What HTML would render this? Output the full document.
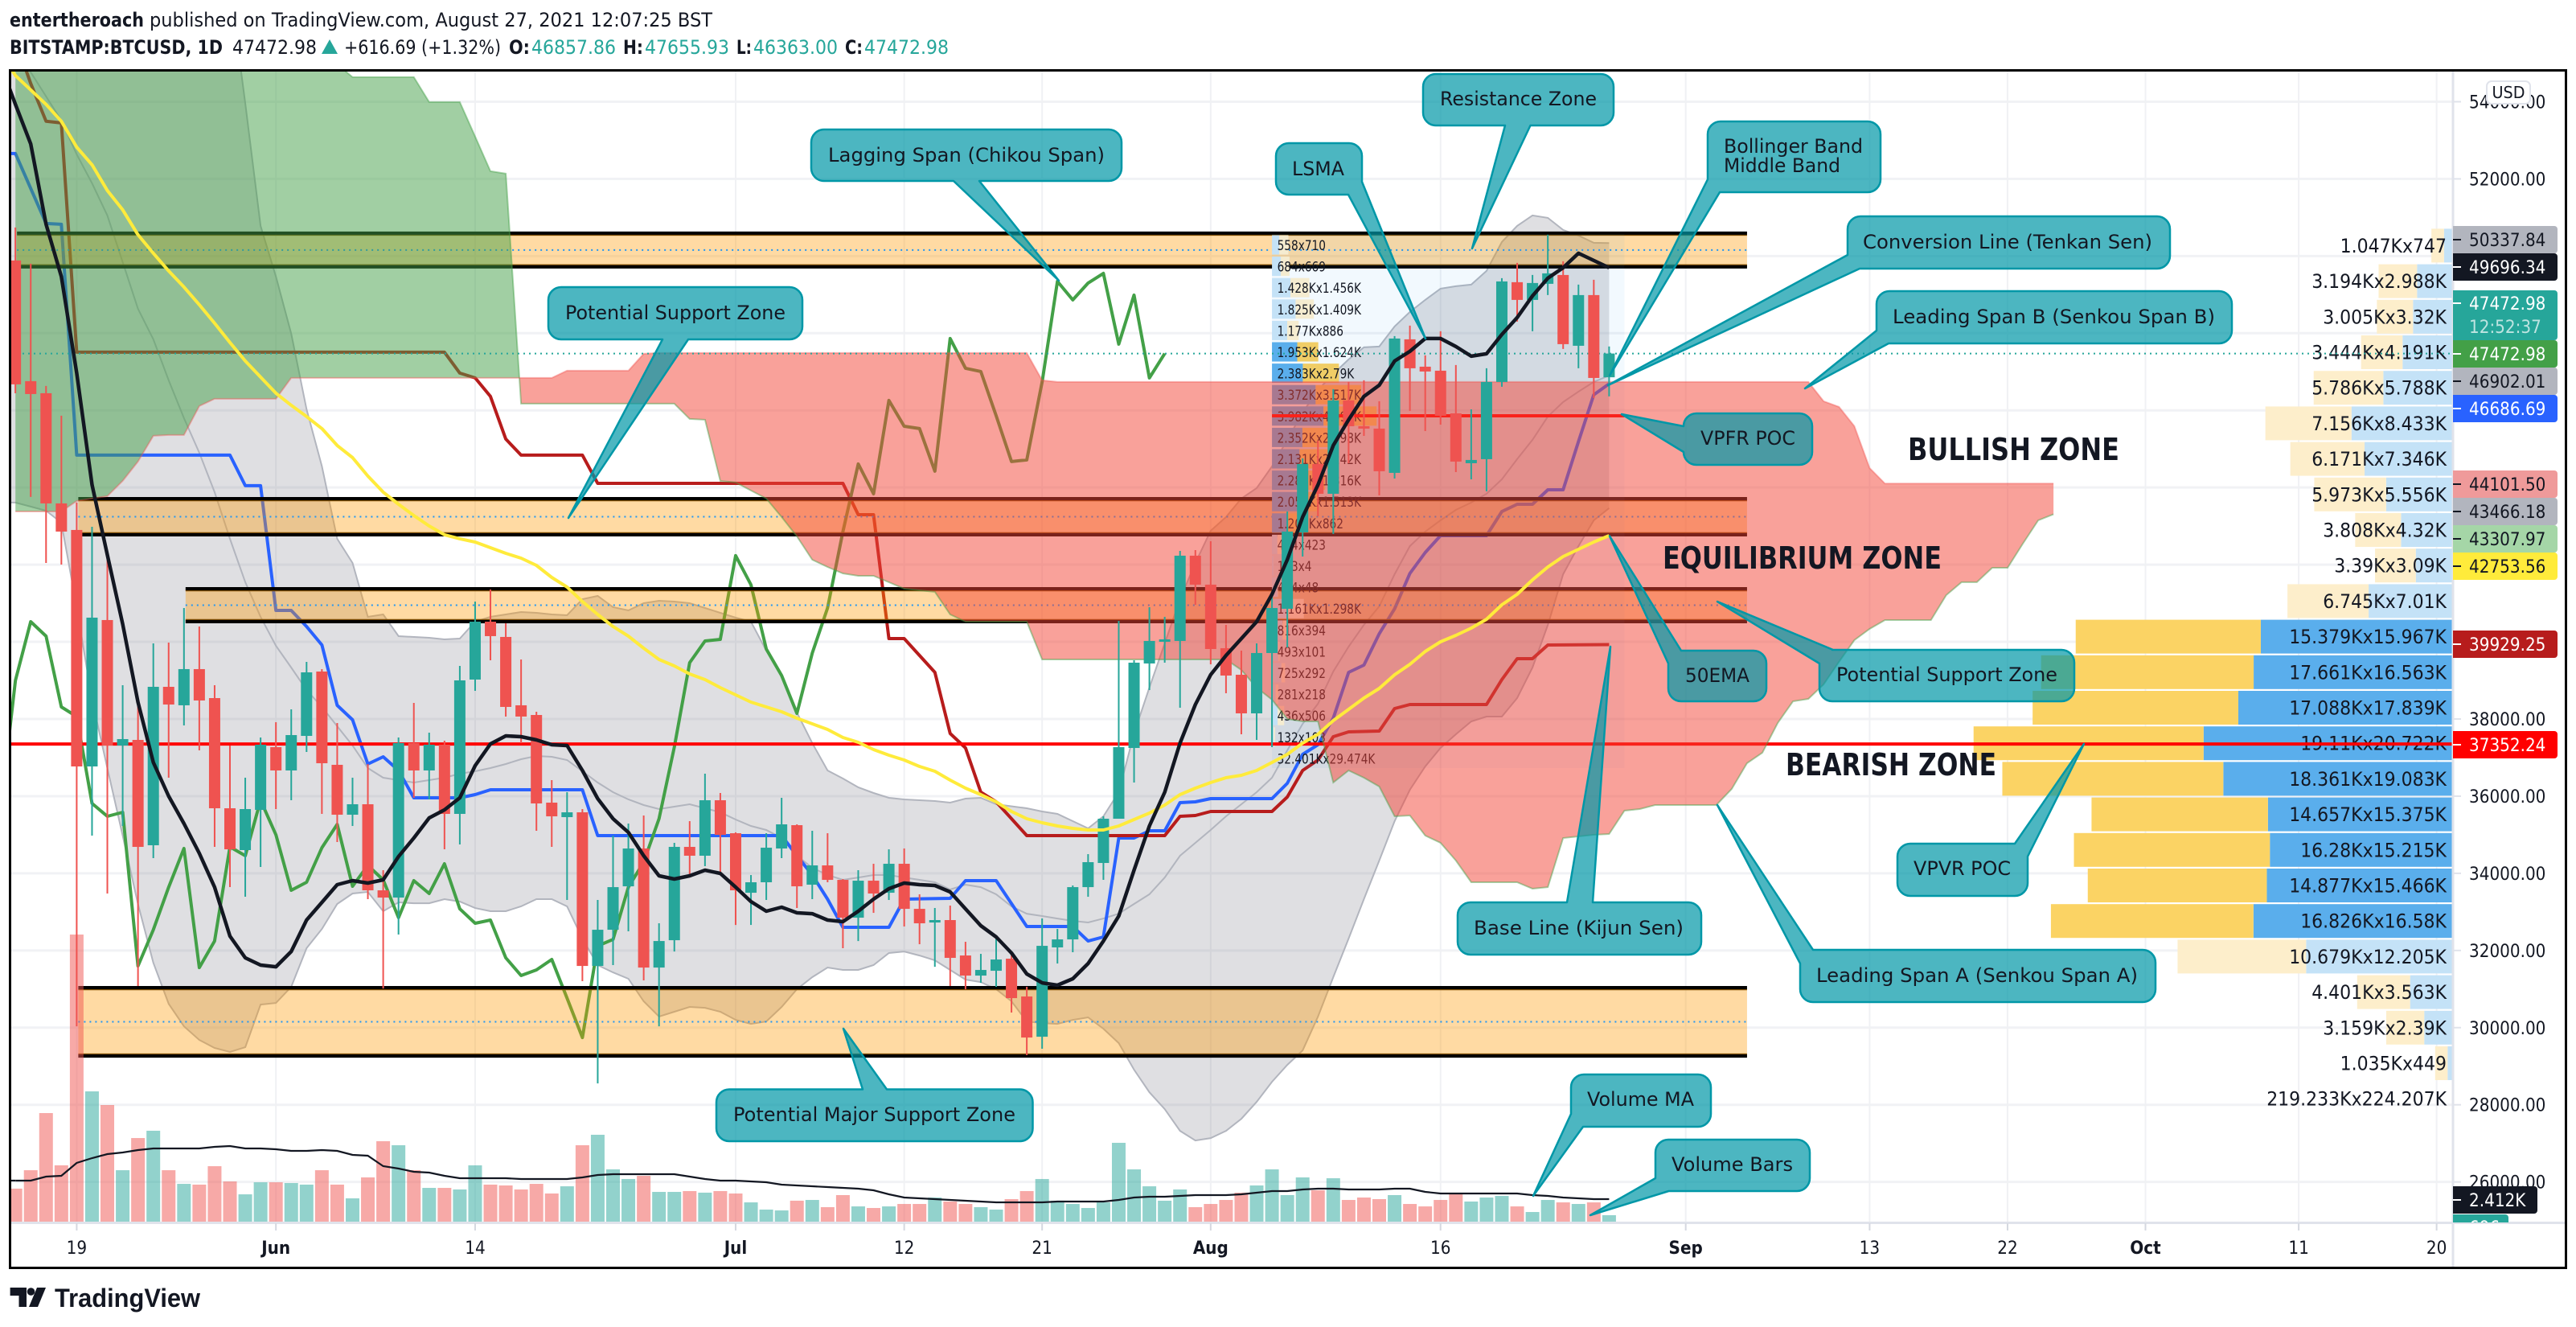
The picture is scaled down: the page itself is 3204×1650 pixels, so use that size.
<!DOCTYPE html>
<html lang="en">
<head>
<meta charset="utf-8">
<title>BTCUSD chart annotated</title>
<style>
html,body{margin:0;padding:0;background:#fff;}
svg{display:block;font-family:"DejaVu Sans","Liberation Sans",sans-serif;}
.co-shape{fill:rgba(0,151,167,.7);stroke:#0097a7;stroke-width:2.5;stroke-linejoin:round;}
.co-text{fill:#131722;font-size:24px;}
.big{fill:#131722;font-size:38px;font-weight:bold;}
.pl{font-size:20px;}
</style>
</head>
<body>
<svg id="chart" xmlns="http://www.w3.org/2000/svg" width="3204" height="1650" viewBox="0 0 3204 1650">
<defs>
<clipPath id="pane"><rect x="14" y="89" width="3037" height="1430"/></clipPath>
<clipPath id="axisClip"><rect x="3051" y="89" width="139" height="1431"/></clipPath>
</defs>
<rect x="0" y="0" width="3204" height="1650" fill="#fff"/>

<g font-size="24" fill="#131722">
<text x="12" y="33" font-weight="bold" textLength="167" lengthAdjust="spacingAndGlyphs">entertheroach</text>
<text x="186" y="33" textLength="700" lengthAdjust="spacingAndGlyphs">published on TradingView.com, August 27, 2021 12:07:25 BST</text>
</g>
<g font-size="24" fill="#131722">
<text x="12" y="67" font-weight="bold" textLength="265" lengthAdjust="spacingAndGlyphs">BITSTAMP:BTCUSD, 1D</text>
<text x="289" y="67" textLength="105" lengthAdjust="spacingAndGlyphs">47472.98</text>
<polygon points="400,67 410,49 420,67" fill="#26a69a"/>
<text x="428" y="67" textLength="195" lengthAdjust="spacingAndGlyphs">+616.69 (+1.32%)</text>
<text x="633" y="67" font-weight="bold" textLength="26" lengthAdjust="spacingAndGlyphs">O:</text>
<text x="661" y="67" fill="#26a69a" textLength="105" lengthAdjust="spacingAndGlyphs">46857.86</text>
<text x="775" y="67" font-weight="bold" textLength="25" lengthAdjust="spacingAndGlyphs">H:</text>
<text x="802" y="67" fill="#26a69a" textLength="105" lengthAdjust="spacingAndGlyphs">47655.93</text>
<text x="916" y="67" font-weight="bold" textLength="19" lengthAdjust="spacingAndGlyphs">L:</text>
<text x="937" y="67" fill="#26a69a" textLength="105" lengthAdjust="spacingAndGlyphs">46363.00</text>
<text x="1051" y="67" font-weight="bold" textLength="22" lengthAdjust="spacingAndGlyphs">C:</text>
<text x="1075" y="67" fill="#26a69a" textLength="105" lengthAdjust="spacingAndGlyphs">47472.98</text>
</g>

<g id="gridLayer"></g>
<g clip-path="url(#pane)">
  <g id="bbLayer"></g>
  <g id="ichiLines"></g>
  <g id="zoneLayer"></g>
  <g id="vpvrLayer"></g>
  <g id="vpfrLayer"></g>
  <g id="hLineLayer"></g>
  <g id="cloudLayer"></g>
  <g id="priceLineLayer"></g>
  <g id="volLayer"></g>
  <g id="volMaLayer"></g>
  <g id="candleLayer"></g>
  <g id="overlayLines"></g>
</g>

<g>
<text class="big" x="2373" y="572" textLength="263" lengthAdjust="spacingAndGlyphs">BULLISH ZONE</text>
<text class="big" x="2068" y="707" textLength="347" lengthAdjust="spacingAndGlyphs">EQUILIBRIUM ZONE</text>
<text class="big" x="2221" y="964" textLength="262" lengthAdjust="spacingAndGlyphs">BEARISH ZONE</text>
</g>

<g id="callouts">
<g><path class="co-shape" data-spec="1009,161,1395,225,B,1218,225,1317,349,1186,225"/><text class="co-text" x="1030" y="201" textLength="344" lengthAdjust="spacingAndGlyphs">Lagging Span (Chikou Span)</text></g>
<g><path class="co-shape" data-spec="682,357,998,422,B,856,422,707,644,824,422"/><text class="co-text" x="703" y="397" textLength="274" lengthAdjust="spacingAndGlyphs">Potential Support Zone</text></g>
<g><path class="co-shape" data-spec="1770,92,2007,156,B,1903.5,156,1831,309,1872,156"/><text class="co-text" x="1791" y="131" textLength="195" lengthAdjust="spacingAndGlyphs">Resistance Zone</text></g>
<g><path class="co-shape" data-spec="1587,178,1694,242,BR,1694,226,1773,421,1677,242"/><text class="co-text" x="1607" y="218" textLength="65" lengthAdjust="spacingAndGlyphs">LSMA</text></g>
<g><path class="co-shape" data-spec="2124,151,2339,239,BL,2139,239,2002,467,2124,223"/><text class="co-text" x="2144" y="190" textLength="173" lengthAdjust="spacingAndGlyphs">Bollinger Band</text><text class="co-text" x="2144" y="214" textLength="145" lengthAdjust="spacingAndGlyphs">Middle Band</text></g>
<g><path class="co-shape" data-spec="2298,269,2699,334,BL,2313,334,2000,479,2298,317"/><text class="co-text" x="2317" y="309" textLength="360" lengthAdjust="spacingAndGlyphs">Conversion Line (Tenkan Sen)</text></g>
<g><path class="co-shape" data-spec="2334,362,2776,427,BL,2349,427,2245,483,2334,411"/><text class="co-text" x="2354" y="402" textLength="401" lengthAdjust="spacingAndGlyphs">Leading Span B (Senkou Span B)</text></g>
<g><path class="co-shape" data-spec="2094,514,2254,578,L,2094,562,2017,515,2094,530"/><text class="co-text" x="2115" y="553" textLength="118" lengthAdjust="spacingAndGlyphs">VPFR POC</text></g>
<g><path class="co-shape" data-spec="2075,809,2197,872,TL,2075,825,2002,666.5,2091,809"/><text class="co-text" x="2096" y="848" textLength="80" lengthAdjust="spacingAndGlyphs">50EMA</text></g>
<g><path class="co-shape" data-spec="2263,808,2580,872,TL,2263,825,2136,748,2280,808"/><text class="co-text" x="2284" y="847" textLength="275" lengthAdjust="spacingAndGlyphs">Potential Support Zone</text></g>
<g><path class="co-shape" data-spec="1813,1122,2116,1187,T,1949,1122,2003,804,1981,1122"/><text class="co-text" x="1833" y="1162" textLength="261" lengthAdjust="spacingAndGlyphs">Base Line (Kijun Sen)</text></g>
<g><path class="co-shape" data-spec="2239,1181,2681,1246,TL,2239,1198,2136,1001,2255,1181"/><text class="co-text" x="2259" y="1221" textLength="400" lengthAdjust="spacingAndGlyphs">Leading Span A (Senkou Span A)</text></g>
<g><path class="co-shape" data-spec="2360,1049,2522,1114,TR,2506,1049,2592,925,2522,1065"/><text class="co-text" x="2380" y="1088" textLength="121" lengthAdjust="spacingAndGlyphs">VPVR POC</text></g>
<g><path class="co-shape" data-spec="1954,1336,2128,1401,BL,1969,1401,1907,1487,1954,1385"/><text class="co-text" x="1974" y="1375" textLength="133" lengthAdjust="spacingAndGlyphs">Volume MA</text></g>
<g><path class="co-shape" data-spec="2059,1417,2251,1481,BL,2075.5,1481,1978,1511,2059,1465"/><text class="co-text" x="2079" y="1456" textLength="151" lengthAdjust="spacingAndGlyphs">Volume Bars</text></g>
<g><path class="co-shape" data-spec="891,1354.5,1284.5,1419,T,1073,1354.5,1049,1279,1103,1354.5"/><text class="co-text" x="912" y="1394" textLength="351" lengthAdjust="spacingAndGlyphs">Potential Major Support Zone</text></g>
</g>

<g id="axisLayer"></g>

<g>
<g><path d="M3051 281H3177a4 4 0 0 1 4 4V311a4 4 0 0 1 -4 4H3051Z" fill="#b2b5be"/><path d="M3051 298H3061" stroke="#131722" stroke-width="2"/><text class="pl" x="3071" y="306" fill="#131722">50337.84</text></g>
<g><path d="M3051 315H3177a4 4 0 0 1 4 4V345a4 4 0 0 1 -4 4H3051Z" fill="#131722"/><path d="M3051 332H3061" stroke="#fff" stroke-width="2"/><text class="pl" x="3071" y="340" fill="#fff">49696.34</text></g>
<g><path d="M3051 361H3177a4 4 0 0 1 4 4V419a4 4 0 0 1 -4 4H3051Z" fill="#26a69a"/><path d="M3051 377H3061" stroke="#fff" stroke-width="2"/><text class="pl" x="3071" y="385" fill="#fff">47472.98</text><text class="pl" x="3071" y="414" fill="#fff" fill-opacity=".7">12:52:37</text></g>
<g><path d="M3051 423H3177a4 4 0 0 1 4 4V453a4 4 0 0 1 -4 4H3051Z" fill="#43a047"/><path d="M3051 440H3061" stroke="#fff" stroke-width="2"/><text class="pl" x="3071" y="448" fill="#fff">47472.98</text></g>
<g><path d="M3051 457H3177a4 4 0 0 1 4 4V487a4 4 0 0 1 -4 4H3051Z" fill="#b2b5be"/><path d="M3051 474H3061" stroke="#131722" stroke-width="2"/><text class="pl" x="3071" y="482" fill="#131722">46902.01</text></g>
<g><path d="M3051 491H3177a4 4 0 0 1 4 4V521a4 4 0 0 1 -4 4H3051Z" fill="#2962ff"/><path d="M3051 508H3061" stroke="#fff" stroke-width="2"/><text class="pl" x="3071" y="516" fill="#fff">46686.69</text></g>
<g><path d="M3051 585H3177a4 4 0 0 1 4 4V615a4 4 0 0 1 -4 4H3051Z" fill="#ef9a9a"/><path d="M3051 602H3061" stroke="#131722" stroke-width="2"/><text class="pl" x="3071" y="610" fill="#131722">44101.50</text></g>
<g><path d="M3051 619H3177a4 4 0 0 1 4 4V649a4 4 0 0 1 -4 4H3051Z" fill="#b2b5be"/><path d="M3051 636H3061" stroke="#131722" stroke-width="2"/><text class="pl" x="3071" y="644" fill="#131722">43466.18</text></g>
<g><path d="M3051 653H3177a4 4 0 0 1 4 4V683a4 4 0 0 1 -4 4H3051Z" fill="#a5d6a7"/><path d="M3051 670H3061" stroke="#131722" stroke-width="2"/><text class="pl" x="3071" y="678" fill="#131722">43307.97</text></g>
<g><path d="M3051 687H3177a4 4 0 0 1 4 4V717a4 4 0 0 1 -4 4H3051Z" fill="#ffeb3b"/><path d="M3051 704H3061" stroke="#131722" stroke-width="2"/><text class="pl" x="3071" y="712" fill="#131722">42753.56</text></g>
<g><path d="M3051 784H3177a4 4 0 0 1 4 4V814a4 4 0 0 1 -4 4H3051Z" fill="#b71c1c"/><path d="M3051 801H3061" stroke="#fff" stroke-width="2"/><text class="pl" x="3071" y="809" fill="#fff">39929.25</text></g>
<g><path d="M3051 909H3177a4 4 0 0 1 4 4V939a4 4 0 0 1 -4 4H3051Z" fill="#ff0000"/><path d="M3051 926H3061" stroke="#fff" stroke-width="2"/><text class="pl" x="3071" y="934" fill="#fff">37352.24</text></g>
<g clip-path="url(#axisClip)"><path d="M3051 1510H3116a4 4 0 0 1 4 4V1544H3051Z" fill="#26a69a"/><text class="pl" x="3071" y="1534" fill="#fff">696</text></g>
<g><path d="M3051 1475H3152a4 4 0 0 1 4 4V1505a4 4 0 0 1 -4 4H3051Z" fill="#131722"/><path d="M3051 1492H3061" stroke="#fff" stroke-width="2"/><text class="pl" x="3071" y="1500" fill="#fff">2.412K</text></g>
</g>

<g>
<rect x="3093" y="101" width="54" height="28" rx="6" fill="#fff" stroke="#e0e3eb" stroke-width="2"/>
<text x="3120" y="122" text-anchor="middle" font-size="20" textLength="41" lengthAdjust="spacingAndGlyphs" fill="#131722">USD</text>
</g>

<rect x="12.5" y="87.5" width="3179" height="1489" fill="none" stroke="#000" stroke-width="3"/>

<g>
<path d="M12.6 1601H33V1625H23.5V1611H12.6Z" fill="#131722"/>
<circle cx="38.5" cy="1606" r="4.8" fill="#131722"/>
<path d="M46 1601H57L47 1625H36Z" fill="#131722"/>
<text x="68" y="1625" font-size="32" font-weight="bold" fill="#131722" textLength="181" lengthAdjust="spacingAndGlyphs" font-family="'Liberation Sans',sans-serif">TradingView</text>
</g>
</svg>

<script>
// ---------- chart data (first candle = 15 May 2021, day index -4; 19 May = day 0) ----------
const firstDay = -4;
const opens = [49885,46757,46444,43588,42900,36770,40565,37312,37458,34727,38834,38355,39293,38542,35686,34602,35644,37270,36666,37562,39230,36812,35519,35790,33559,33371,37375,36666,37333,35540,39022,40523,40127,38355,38104,35832,35456,35581,31599,32537,33663,34643,31557,32266,34685,34456,35894,35039,33496,33768,34643,35248,33705,34205,33830,32850,33809,33496,34247,33079,32725,32788,31870,31349,31474,31787,30807,29764,32079,32287,33642,34268,35415,37249,39439,40002,40023,42233,41482,39835,39147,38146,39710,40857,42837,44610,43838,46257,45589,45527,44380,47841,47132,47028,45923,44630,44735,46736,49322,48863,49280,49509,47674,48988,46857.86];
const highs = [50739,49801,46632,45861,43609,42983,42316,38876,38375,39960,39981,40877,40398,38876,37312,36478,37521,37917,38250,39480,39293,37896,36478,36832,34080,37521,38417,37646,37437,39376,41044,41357,40481,39543,38188,36415,36103,35665,33309,34977,35290,35498,32704,34789,35352,36582,36082,35060,33955,35039,35957,35269,35102,35039,33851,34080,34247,34622,34643,33455,33100,33163,32225,31912,32308,31870,31057,32829,32558,33684,34497,35477,40544,39522,40898,40648,42358,42379,42608,40440,39772,39960,41190,43379,44755,45214,46549,46736,46778,46236,47925,48196,47424,48050,47174,46027,47091,49426,49822,49509,50552,49864,49259,49384,47655.93];
const lows = [46444,43755,42045,42003,30035,34977,33476,35227,31078,34393,36478,37833,37187,34685,33642,33392,34164,35665,35894,37145,35540,34810,35227,33330,31015,32412,35957,35915,34622,34747,38730,39522,38063,37375,35102,34685,33309,31203,28555,31620,32496,31224,30035,31974,33955,34185,33955,32662,32662,33309,34393,33100,33330,33768,32058,32245,32975,33309,32621,32162,31578,31078,30994,31161,31057,30390,29285,29452,31662,31954,33392,33830,35415,36353,38751,39460,38292,40961,39418,38667,37604,37458,37270,39856,42212,43254,42796,44630,45339,43796,44234,45986,45464,45631,44401,44213,43901,46611,48300,48050,48988,47591,47091,46319,46363];
const closes = [46674,46423,43588,42858,36770,40627,37312,37479,34685,38834,38375,39293,38480,35686,34622,35665,37333,36666,37583,39209,36853,35519,35790,33559,33371,37375,36666,37333,35540,39001,40523,40148,38313,38063,35811,35477,35581,31599,32537,33642,34643,31557,32245,34685,34456,35894,34998,33559,33768,34664,35269,33663,34205,33830,32850,33809,33476,34247,33079,32704,32788,31808,31349,31495,31766,30765,29743,32120,32287,33642,34289,35415,37270,39460,40023,40064,42233,41482,39814,39126,38146,39710,40877,42858,44610,43838,46257,45589,45527,44422,47862,47091,47007,45861,44672,44714,46736,49342,48863,49301,49551,47716,48988,46840,47472.98];
const volumes = [3530,5500,11610,6020,30700,13930,12470,5500,8940,9720,5500,4040,3960,5930,4300,2920,4210,4210,4130,3960,5500,3960,2490,4730,8600,8170,5500,3610,3610,3440,6020,3960,3870,3440,4040,3010,3780,8170,9290,5590,4560,4900,3180,3180,3270,3100,3270,3010,2060,1290,1200,2240,2320,1550,2840,1630,1460,1630,1890,1890,2580,2150,1890,1550,1290,2410,3270,4560,2240,1890,1460,2060,8430,5590,3780,2240,3440,1550,1890,2320,3100,3870,5590,2840,4730,3350,4640,2320,2580,2410,2840,1890,1630,2320,3010,2150,2580,2750,1630,1030,2320,2060,1890,2060,690];
const volumeMA = [4390,4390,4820,4900,6280,6790,7220,7400,7650,7830,7830,7830,7830,8000,8080,7830,7830,7740,7570,7570,7650,7570,7140,7050,5930,5680,5330,5250,4900,4640,4640,4640,4640,4560,4560,4560,4560,4730,4990,5070,5070,5070,5070,5070,4820,4560,4390,4390,4300,4210,3960,3870,3780,3700,3610,3530,3350,2920,2580,2490,2410,2320,2240,2150,2060,2060,2060,2060,2150,2150,2150,2150,2320,2580,2670,2670,2750,2840,2840,2840,2920,3100,3270,3270,3440,3530,3530,3440,3440,3440,3530,3530,3180,3010,3010,3010,3010,3010,3010,2840,2750,2580,2490,2410,2412];

// daily series starting at day -5
const lineStartDay = -5;
const lsma = [55000,53930,52908,50823,49468,46966,44068,42254,40460,38438,36874,35999,35290,34518,33642,32371,31808,31620,31578,31974,32788,33246,33705,33809,33747,33830,34435,34915,35436,35644,35957,36791,37354,37562,37541,37458,37333,37312,36666,35936,35415,35060,34456,33934,33851,33934,34080,33997,33642,33267,33017,33121,32975,32954,32788,32746,33017,33330,33601,33747,33705,33684,33517,33079,32642,32350,31933,31391,31161,31099,31266,31662,32245,32892,34080,35227,36103,37375,38375,39147,39647,40085,40523,41232,42128,43234,44068,45089,45756,46361,46653,47278,47529,47862,47862,47654,47404,47466,47966,48404,48967,49426,49697,50072,49885,49696.34];
const ema50 = [55285,54680,54305,53930,53492,52824,52366,51699,51198,50552,50072,49614,49197,48738,48258,47758,47278,46861,46444,46132,45840,45527,45089,44776,44297,43880,43567,43275,43004,42775,42671,42587,42441,42295,42170,41982,41670,41420,41044,40711,40398,40148,39835,39543,39376,39168,39022,38813,38626,38438,38313,38188,38021,37875,37729,37521,37395,37208,37062,36937,36770,36645,36416,36207,36040,35853,35602,35415,35311,35227,35165,35123,35123,35227,35394,35561,35769,36040,36207,36353,36478,36541,36666,36874,37083,37375,37604,37958,38250,38542,38792,39147,39418,39751,40002,40168,40356,40585,40961,41232,41607,41941,42212,42399,42587,42753.56];
const bbLower = [43609,43609,43505,43400,43088,40898,38500,36728,34977,33205,31682,30619,30035,29681,29473,29369,29493,30598,30640,31057,32058,32558,33205,33476,33517,33017,33246,33225,33225,33330,33267,33100,33017,33017,33142,33330,33330,33142,32308,31620,31432,31266,30682,30286,30411,30536,30515,30411,30202,30098,30160,30536,30995,31308,31558,31495,31495,31620,31933,31974,31870,31745,31495,31245,31182,30995,30682,30160,30119,30098,30202,30265,29973,29598,28910,28326,27888,27325,27075,27138,27325,27638,28076,28597,29035,29410,30286,31308,32308,33330,34330,35352,36165,36770,37250,37604,37937,38063,38063,38542,39334,40440,41753,42483,43150,43466.18];
const bbBasis = [56015,55389,54764,54138,53513,52637,51886,51052,49843,48634,47841,46778,45798,44901,43880,42671,41545,40648,39897,39335,38751,38313,37812,37312,36728,36478,36416,36353,36416,36478,36582,36645,36728,36832,36957,37041,37020,36937,36645,36353,36103,35915,35769,35665,35727,35790,35686,35582,35394,35227,35123,34915,34456,34143,33955,33830,33892,33955,33955,33892,33830,33768,33580,33705,33642,33455,33142,32954,32892,32829,32767,32725,32829,32954,33205,33455,33892,34456,34789,35123,35477,35790,36103,36478,37187,37875,38396,39230,39877,40440,40919,41753,42483,42858,43150,43421,43609,43838,44213,44735,45235,45840,46215,46486,46736,46902.01];

// series with flat runs, as vertex day + value
const bbUpperDays = [-5,10,11,12,13,14,15,16,17,18,19,20,21,23,24,25,26,27,28,29,30,31,32,33,34,35,36,37,38,39,40,41,42,43,44,45,46,47,48,49,50,51,52,53,54,55,56,57,58,59,60,62,63,64,65,66,67,68,69,70,71,72,73,74,75,76,77,78,79,80,81,82,83,84,85,86,87,88,89,90,91,92,93,94,95,96,97,98,99,100];
const bbUpper = [56994,56994,53950,50781,49468,47987,46027,44547,42671,42045,40648,40711,40148,40106,40064,40085,40523,40648,40711,40773,40752,40711,40690,41107,41190,40898,40815,41002,41065,41044,41002,40877,40752,40627,40523,39772,39105,38167,37375,36666,36457,36228,36082,35957,35915,35894,35873,35832,35936,35957,35790,35686,35602,35540,35352,35165,35477,36103,37625,38813,39960,41107,42045,42879,43234,43713,43984,44547,45235,45944,46528,46945,47320,47633,47654,48175,48550,48863,49155,49217,49259,49614,50364,50781,51052,50990,50677,50531,50343,50337.84];
const tenkanDays = [-5,-4,-2,-1,0,10,11,12,13,14,15,16,17,18,19,20,21,22,25,26,27,33,34,46,47,48,49,50,53,54,57,58,60,62,65,66,67,68,69,70,71,72,73,74,78,79,80,81,82,83,84,85,86,87,88,89,92,93,94,95,96,97,98,99,100];
const tenkan = [52658,52658,50844,50823,44839,44839,44047,44047,40815,40815,40398,39918,38355,37979,36832,37020,36666,35957,35957,36040,36165,36165,34977,34977,34456,33955,33330,32600,32600,33330,33351,33809,33809,32621,32621,32245,32350,34915,34915,35102,35102,35832,35853,35936,35936,36332,37083,37333,38021,39209,39397,40210,40857,41774,42316,42754,42754,43379,43567,43567,43942,43942,45193,46403,46686.69];
const kijunDays = [-5,-4,-3,-2,-1,0,24,25,26,27,28,29,33,34,50,51,52,53,54,55,56,57,58,59,60,61,62,71,72,73,74,78,79,80,81,82,83,85,86,87,92,93,94,95,96,100];
const kijun = [56500,55598,54472,53492,53450,47508,47508,46966,46841,46361,45256,44839,44839,44109,44109,43296,43296,40085,40085,39647,39209,37625,37250,36103,35853,35415,34977,34977,35477,35498,35602,35602,35978,36666,36937,37541,37666,37687,38271,38375,38375,39022,39564,39564,39918,39929.25];
const senkouADays = [-4,17,18,22,23,25,26,27,28,29,39,40,41,42,43,44,45,46,47,48,49,50,51,52,53,54,55,56,57,58,62,63,75,76,77,78,79,80,81,82,83,84,85,86,87,88,89,90,91,94,95,96,97,98,99,100,101,102,103,107,108,109,110,111,112,113,114,115,116,117,118,121,122,123,124,125,126,127,128,129];
const senkouA = [56015,54972,54638,54638,53992,53992,53096,52199,52136,46173,46173,45777,45756,44172,44130,43922,43713,43234,42733,42128,41941,41774,41711,41711,41545,41378,41336,41294,40711,40523,40523,39543,39543,39272,38813,38500,38000,37937,37937,36353,36666,36478,36249,35477,35498,34977,34789,34330,33768,33768,33601,33642,34915,34956,34998,35019,35623,35665,35769,35769,36186,36853,37124,37896,38459,38521,38897,39481,40043,40335,40565,40565,41211,41545,41545,41920,41920,42545,43150,43307.97];
const senkouBDays = [-4,-1,0,1,2,3,4,5,6,7,8,9,13,14,31,32,36,37,38,62,63,64,113,114,115,116,117,118,129];
const senkouB = [43379,43379,43651,43713,43776,44172,44672,45339,45360,45360,46111,46298,46298,46841,46841,47028,47028,47466,47487,47487,46778,46736,46736,46236,46090,45590,44505,44101.5,44101.5];
const chikouLag = 29;

// horizontal zones
const zoneNames = ['resistance','support-upper','support-lower','major-support'];
const zoneTop = [50594,43713,41378,31037];
const zoneBottom = [49718,42775,40523,29264];
const zoneStart = [-4,0,7,0];
const zoneEndDay = 109;
const vpvrPocPrice = 37352.24;
const vpfrPocPrice = 45860;
const lastPrice = 47472.98;

// volume profiles
const vpvrUp = [1047,3194,3005,3444,5786,7156,6171,5973,3808,3390,6745,15379,17661,17088,19110,18361,14657,16280,14877,16826,10679,4401,3159,1035];
const vpvrDown = [747,2988,3320,4191,5788,8433,7346,5556,4320,3090,7010,15967,16563,17839,20722,19083,15375,15215,15466,16580,12205,3563,2390,449];
const vpvrValueArea = [11,12,13,14,15,16,17,18,19];
const vpvrTotal = '219.233Kx224.207K';
const vpfrBlue = [558,684,1428,1825,1177,1953,2383,3372,3982,2352,2131,2283,2053,1206,414,133,424,1161,816,493,725,281,436,132];
const vpfrYellow = [710,669,1456,1409,886,1624,2790,3517,4099,2398,2242,1816,1513,862,423,4,48,1298,394,101,292,218,506,103];
const vpfrValueArea = [5,6,7,8,9,10,11,12,13];
const vpfrTotal = '32.401Kx29.474K';

// axes
const priceTicks = [54000,52000,50000,48000,46000,44000,42000,40000,38000,36000,34000,32000,30000,28000,26000];
const timeLabels = ['19','Jun','14','Jul','12','21','Aug','16','Sep','13','22','Oct','11','20'];
const timeDays = [0,13,26,43,54,63,74,89,105,117,126,135,145,154];
const monthLabels = ['Jun','Jul','Aug','Sep','Oct'];

// ---------- axis functions ----------
const xOf = d => 95.4 + 19.06 * d;
const yOf = p => 894 - (p - 38000) * 0.04797;
const volY = v => 1519 - v / 86;
const RIGHT = 3051;
const NS = 'http://www.w3.org/2000/svg';
function mk(tag, parent, attrs) {
  const e = document.createElementNS(NS, tag);
  for (const k in attrs) e.setAttribute(k, attrs[k]);
  parent.appendChild(e);
  return e;
}
const $ = id => document.getElementById(id);
const ptsFromDaily = (vals, start) => vals.map((v, i) => xOf(start + i).toFixed(1) + ',' + yOf(v).toFixed(1)).join(' ');
const ptsFromPairs = (days, vals) => days.map((d, i) => xOf(d).toFixed(1) + ',' + yOf(vals[i]).toFixed(1)).join(' ');
function at(days, vals, d) {
  if (d <= days[0]) return vals[0];
  for (let i = 1; i < days.length; i++) {
    if (d <= days[i]) {
      const t = (d - days[i - 1]) / (days[i] - days[i - 1]);
      return vals[i - 1] + t * (vals[i] - vals[i - 1]);
    }
  }
  return vals[vals.length - 1];
}
function fmtVol(v) { return v < 1000 ? String(v) : (v / 1000) + 'K'; }
// keep the measured width of a label but render it taller (condensed look of the source)
function squeeze(t, size) {
  const w = t.getComputedTextLength();
  t.setAttribute('textLength', w.toFixed(1));
  t.setAttribute('lengthAdjust', 'spacingAndGlyphs');
  t.setAttribute('font-size', size);
  t.style.fontSize = size + 'px';
}

// ---------- grid ----------
priceTicks.forEach(p => {
  const g = mk('line', $('gridLayer'), {x1: 14, x2: RIGHT, y1: yOf(p), y2: yOf(p), stroke: '#f1f2f5', 'stroke-width': 3});
  
  
});
timeDays.forEach(d => {
  const g = mk('line', $('gridLayer'), {x1: xOf(d), x2: xOf(d), y1: 89, y2: 1520, stroke: '#f0f1f4', 'stroke-width': 2});
  
  
});

// ---------- bollinger bands ----------
const bbUpperPts = ptsFromPairs(bbUpperDays, bbUpper);
const bbLowerRev = bbLower.map((v, i) => xOf(lineStartDay + i).toFixed(1) + ',' + yOf(v).toFixed(1)).reverse().join(' ');
const bbFill = mk('polygon', $('bbLayer'), {points: bbUpperPts + ' ' + bbLowerRev, fill: 'rgba(120,123,134,.24)', stroke: 'none'});


const bbU = mk('polyline', $('bbLayer'), {points: bbUpperPts, fill: 'none', stroke: '#b2b5be', 'stroke-width': 2});


const bbL = mk('polyline', $('bbLayer'), {points: ptsFromDaily(bbLower, lineStartDay), fill: 'none', stroke: '#b2b5be', 'stroke-width': 2});


const bbM = mk('polyline', $('bbLayer'), {points: ptsFromDaily(bbBasis, lineStartDay), fill: 'none', stroke: '#b2b5be', 'stroke-width': 2});



// ---------- ichimoku lines ----------
const tk = mk('polyline', $('ichiLines'), {points: ptsFromPairs(tenkanDays, tenkan), fill: 'none', stroke: '#2962ff', 'stroke-width': 4, 'stroke-linejoin': 'round'});


const kj = mk('polyline', $('ichiLines'), {points: ptsFromPairs(kijunDays, kijun), fill: 'none', stroke: '#b71c1c', 'stroke-width': 4, 'stroke-linejoin': 'round'});


// lagging span: closes shifted back by the displacement
const chikouPts = closes.map((c, i) => ({d: firstDay + i - chikouLag, c: c})).filter(o => o.d >= -6)
  .map(o => xOf(o.d).toFixed(1) + ',' + yOf(o.c).toFixed(1)).join(' ');
const ck = mk('polyline', $('ichiLines'), {points: chikouPts, fill: 'none', stroke: '#43a047', 'stroke-width': 4, 'stroke-linejoin': 'round'});



// ---------- zones ----------
zoneNames.forEach((n, i) => {
  const g = mk('g', $('zoneLayer'), {});
  
  
  const x0 = xOf(zoneStart[i]) + 2, x1 = xOf(zoneEndDay), yT = yOf(zoneTop[i]), yB = yOf(zoneBottom[i]);
  mk('rect', g, {x: x0, y: yT, width: x1 - x0, height: yB - yT, fill: 'rgba(255,152,0,.36)'});
  mk('line', g, {x1: x0, x2: x1, y1: yT + 2.5, y2: yT + 2.5, stroke: '#7a4a00', 'stroke-width': 1.5});
  mk('line', g, {x1: x0, x2: x1, y1: yB - 2.5, y2: yB - 2.5, stroke: '#7a4a00', 'stroke-width': 1.5});
  mk('line', g, {x1: x0, x2: x1, y1: yT, y2: yT, stroke: '#000', 'stroke-width': 4});
  mk('line', g, {x1: x0, x2: x1, y1: yB, y2: yB, stroke: '#000', 'stroke-width': 4});
  mk('line', g, {x1: x0, x2: x1, y1: (yT + yB) / 2, y2: (yT + yB) / 2, stroke: '#2196f3', 'stroke-width': 2, 'stroke-dasharray': '2 5'});
});

// ---------- VPVR (right anchored) ----------
const vpvrScale = 0.01497, vpvrPitch = 44.2, vpvrTop = 305.4;
vpvrUp.forEach((u, i) => {
  const row = mk('g', $('vpvrLayer'), {});
  
  
  const cy = vpvrTop + vpvrPitch * i, solid = vpvrValueArea.includes(i);
  const bw = vpvrDown[i] * vpvrScale, yw = u * vpvrScale;
  mk('rect', row, {x: RIGHT - bw, y: cy - 21, width: bw, height: 42, fill: solid ? '#5aaeec' : '#c4e2f7'});
  mk('rect', row, {x: RIGHT - bw - yw, y: cy - 21, width: yw, height: 42, fill: solid ? '#fbd364' : '#fdeecb'});
  const t = mk('text', row, {x: 3043, y: cy + 8.5, 'text-anchor': 'end', 'font-size': 22, fill: '#131722'});
  t.textContent = fmtVol(u) + 'x' + fmtVol(vpvrDown[i]);
  squeeze(t, 24);
});
const vpvrT = mk('text', $('vpvrLayer'), {x: 3043, y: vpvrTop + vpvrPitch * vpvrUp.length + 8.5, 'text-anchor': 'end', 'font-size': 22, fill: '#131722'});


vpvrT.textContent = vpvrTotal;
squeeze(vpvrT, 24);

// ---------- VPFR (left anchored) ----------
const vpfrLeft = xOf(78);
const vpfrScale = 0.0161, vpfrPitch = 26.6, vpfrTopY = 304.5;
const vpfrBg = mk('rect', $('vpfrLayer'), {x: vpfrLeft, y: 291, width: xOf(101) - vpfrLeft, height: 664, fill: 'rgba(33,150,243,.06)'});


vpfrBlue.forEach((b, i) => {
  const row = mk('g', $('vpfrLayer'), {});
  
  
  const cy = vpfrTopY + vpfrPitch * i, solid = vpfrValueArea.includes(i);
  const bw = b * vpfrScale, yw = vpfrYellow[i] * vpfrScale;
  mk('rect', row, {x: vpfrLeft, y: cy - 12, width: bw, height: 24, fill: solid ? '#5aaeec' : '#c4e2f7'});
  mk('rect', row, {x: vpfrLeft + bw, y: cy - 12, width: yw, height: 24, fill: solid ? '#f0cd66' : '#f5ecd0'});
  const t = mk('text', row, {x: vpfrLeft + 6.5, y: cy + 6.5, 'font-size': 13.7, fill: '#131722'});
  t.textContent = fmtVol(b) + 'x' + fmtVol(vpfrYellow[i]);
  squeeze(t, 17);
});
const vpfrT = mk('text', $('vpfrLayer'), {x: vpfrLeft + 6.5, y: vpfrTopY + vpfrPitch * vpfrBlue.length + 6.5, 'font-size': 13.7, fill: '#131722'});


vpfrT.textContent = vpfrTotal;
squeeze(vpfrT, 17);

// ---------- POC lines ----------
const pocR = mk('line', $('hLineLayer'), {x1: 14, x2: RIGHT, y1: yOf(vpvrPocPrice), y2: yOf(vpvrPocPrice), stroke: '#ff0000', 'stroke-width': 4});


const pocF = mk('line', $('hLineLayer'), {x1: vpfrLeft, x2: xOf(101), y1: yOf(vpfrPocPrice), y2: yOf(vpfrPocPrice), stroke: '#ff0000', 'stroke-width': 4});



// ---------- ichimoku cloud ----------
const cloudDays = [];
for (let d = -4; d <= 129; d++) cloudDays.push(d);
const runs = [];
let cur = null;
cloudDays.forEach((d, i) => {
  const a = at(senkouADays, senkouA, d), b = at(senkouBDays, senkouB, d), up = a >= b;
  if (cur && cur.up !== up) {
    const pd = cloudDays[i - 1], pa = at(senkouADays, senkouA, pd), pb = at(senkouBDays, senkouB, pd);
    const t = (pa - pb) / ((pa - pb) - (a - b)), cd = pd + t, cp = pa + t * (a - pa);
    cur.top.push([cd, cp]); cur.bot.push([cd, cp]);
    runs.push(cur);
    cur = {up: up, top: [[cd, cp]], bot: [[cd, cp]]};
  }
  if (!cur) cur = {up: up, top: [], bot: []};
  cur.top.push([d, a]); cur.bot.push([d, b]);
});
runs.push(cur);
runs.forEach(r => {
  const pts = r.top.concat(r.bot.slice().reverse()).map(p => xOf(p[0]).toFixed(1) + ',' + yOf(p[1]).toFixed(1)).join(' ');
  const poly = mk('polygon', $('cloudLayer'), {points: pts, fill: r.up ? 'rgba(67,160,71,.5)' : 'rgba(244,67,54,.5)'});
  
  
});
const spanA = mk('polyline', $('cloudLayer'), {points: ptsFromPairs(senkouADays, senkouA), fill: 'none', stroke: 'rgba(67,160,71,.45)', 'stroke-width': 2});


const spanB = mk('polyline', $('cloudLayer'), {points: ptsFromPairs(senkouBDays, senkouB), fill: 'none', stroke: 'rgba(239,83,80,.4)', 'stroke-width': 2});



// ---------- last price dotted ----------
const lp = mk('line', $('priceLineLayer'), {x1: 14, x2: RIGHT, y1: yOf(lastPrice), y2: yOf(lastPrice), stroke: '#26a69a', 'stroke-width': 2, 'stroke-dasharray': '2 5'});



// ---------- volume ----------
volumes.forEach((v, i) => {
  const d = firstDay + i, up = closes[i] >= opens[i], y = volY(v);
  const bar = mk('rect', $('volLayer'), {x: xOf(d) - 8.5, y: y, width: 17, height: 1519 - y, fill: up ? 'rgba(38,166,154,.5)' : 'rgba(239,83,80,.5)'});
  
  
});
const vmaPts = volumeMA.map((v, i) => xOf(firstDay + i).toFixed(1) + ',' + volY(v).toFixed(1)).join(' ');
const vma = mk('polyline', $('volMaLayer'), {points: vmaPts, fill: 'none', stroke: '#131722', 'stroke-width': 2.2});


const vmaHead = mk('line', $('volMaLayer'), {x1: 14, x2: xOf(firstDay), y1: volY(volumeMA[0]), y2: volY(volumeMA[0]), stroke: '#131722', 'stroke-width': 2.2});



// ---------- candles ----------
opens.forEach((o, i) => {
  const d = firstDay + i, c = closes[i], up = c >= o, col = up ? '#26a69a' : '#ef5350';
  const g = mk('g', $('candleLayer'), {});
  
  
  const x = xOf(d), top = yOf(Math.max(o, c)), bot = yOf(Math.min(o, c));
  mk('line', g, {x1: x, x2: x, y1: yOf(highs[i]), y2: yOf(lows[i]), stroke: col, 'stroke-width': 2});
  mk('rect', g, {x: x - 7, y: top, width: 14, height: Math.max(2, bot - top), fill: col});
});

// ---------- LSMA and EMA ----------
const emaLine = mk('polyline', $('overlayLines'), {points: ptsFromDaily(ema50, lineStartDay), fill: 'none', stroke: '#ffeb3b', 'stroke-width': 4, 'stroke-linejoin': 'round'});


const lsmaLine = mk('polyline', $('overlayLines'), {points: ptsFromDaily(lsma, lineStartDay), fill: 'none', stroke: '#131722', 'stroke-width': 4.5, 'stroke-linejoin': 'round'});



// ---------- axes ----------
const axV = mk('line', $('axisLayer'), {x1: RIGHT, x2: RIGHT, y1: 89, y2: 1576, stroke: '#e0e3eb', 'stroke-width': 3});


const axH = mk('line', $('axisLayer'), {x1: 14, x2: 3190, y1: 1520.5, y2: 1520.5, stroke: '#e0e3eb', 'stroke-width': 3});


priceTicks.forEach(p => {
  const y = yOf(p);
  mk('line', $('axisLayer'), {x1: RIGHT, x2: RIGHT + 10, y1: y, y2: y, stroke: '#e0e3eb', 'stroke-width': 2});
  const t = mk('text', $('axisLayer'), {x: 3071, y: y + 8, 'font-size': 20, fill: '#131722'});
  
  
  t.textContent = p.toFixed(2);
  squeeze(t, 22);
});
timeLabels.forEach((lab, i) => {
  const x = xOf(timeDays[i]);
  mk('line', $('axisLayer'), {x1: x, x2: x, y1: 1521, y2: 1530, stroke: '#d5d8e0', 'stroke-width': 2});
  const attrs = {x: x, y: 1559, 'text-anchor': 'middle', 'font-size': 20, fill: '#131722'};
  if (monthLabels.includes(lab)) attrs['font-weight'] = 'bold';
  const t = mk('text', $('axisLayer'), attrs);
  
  
  t.textContent = lab;
  squeeze(t, 22);
});
document.querySelectorAll('.pl').forEach(t => squeeze(t, 22));

// ---------- callout outlines ----------
document.querySelectorAll('.co-shape').forEach(p => {
  const s = p.getAttribute('data-spec').split(',');
  const n = s.map(Number);
  const l = n[0], t = n[1], r = n[2], b = n[3], side = s[4];
  const tail = 'L' + n[5] + ' ' + n[6] + 'L' + n[7] + ' ' + n[8] + 'L' + n[9] + ' ' + n[10];
  const R = 16;
  const arc = (x, y) => 'A' + R + ' ' + R + ' 0 0 1 ' + x + ' ' + y;
  let d = 'M' + (l + R) + ' ' + t;
  if (side === 'T') d += tail;
  d += side === 'TR' ? tail : 'L' + (r - R) + ' ' + t + arc(r, t + R);
  if (side === 'R') d += tail;
  d += side === 'BR' ? tail : 'L' + r + ' ' + (b - R) + arc(r - R, b);
  if (side === 'B') d += tail;
  d += side === 'BL' ? tail : 'L' + (l + R) + ' ' + b + arc(l, b - R);
  if (side === 'L') d += tail;
  d += side === 'TL' ? tail : 'L' + l + ' ' + (t + R) + arc(l + R, t);
  d += 'Z';
  p.setAttribute('d', d);
});
</script>
</body>
</html>
